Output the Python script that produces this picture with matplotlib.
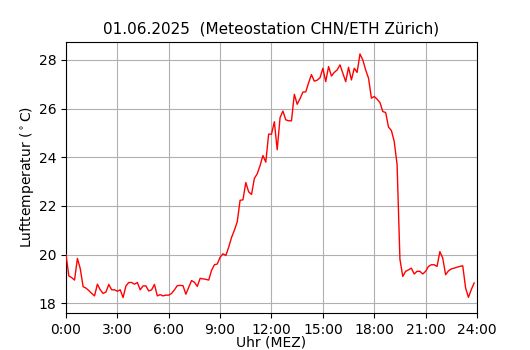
import numpy as np
import matplotlib
matplotlib.use("Agg")
import matplotlib.pyplot as plt

# 10-minute temperature readings, 00:00 .. 23:50
temps = [
    20.0, 19.12, 19.05, 18.95, 19.84, 19.42, 18.68, 18.62, 18.52, 18.4,
    18.3, 18.78, 18.55, 18.4, 18.46, 18.77, 18.55, 18.55, 18.49, 18.55,
    18.23, 18.71, 18.85, 18.85, 18.78, 18.85, 18.55, 18.71, 18.71, 18.5,
    18.55, 18.77, 18.3, 18.35, 18.3, 18.33, 18.33, 18.4, 18.55, 18.72,
    18.73, 18.72, 18.37, 18.65, 18.93, 18.86, 18.69, 19.02, 19.0, 18.98,
    18.95, 19.35, 19.58, 19.61, 19.89, 20.03, 19.96, 20.3, 20.7, 21.0,
    21.35, 22.23, 22.25, 22.96, 22.58, 22.47, 23.13, 23.32, 23.66, 24.07,
    23.8, 24.95, 24.95, 25.46, 24.31, 25.63, 25.9, 25.54, 25.5, 25.5,
    26.59, 26.18, 26.41, 26.68, 26.69, 27.06, 27.4, 27.13, 27.17, 27.27,
    27.66, 27.11, 27.73, 27.34, 27.49, 27.59, 27.8, 27.45, 27.11, 27.7,
    27.18, 27.66, 27.49, 28.25, 28.0, 27.59, 27.25, 26.43, 26.5, 26.39,
    26.25, 25.88, 25.84, 25.24, 25.1, 24.65, 23.7, 19.8, 19.1, 19.31,
    19.37, 19.44, 19.2, 19.31, 19.31, 19.2, 19.31, 19.51, 19.58, 19.58,
    19.51, 20.12, 19.85, 19.17, 19.33, 19.41, 19.44, 19.48, 19.51, 19.54,
    18.63, 18.24, 18.56, 18.83,
]
step_minutes = 10
hours = np.arange(len(temps)) * step_minutes / 60.0

xtick_hours = [0, 3, 6, 9, 12, 15, 18, 21, 24]
xtick_labels = ["0:00", "3:00", "6:00", "9:00", "12:00", "15:00", "18:00", "21:00", "24:00"]
ytick_values = [18, 20, 22, 24, 26, 28]

title = "01.06.2025  (Meteostation CHN/ETH Zürich)"
xlabel = "Uhr (MEZ)"
ylabel = r"Lufttemperatur ($^\circ$C)"

fig = plt.figure(figsize=(5.3, 3.5), dpi=100)
ax = fig.add_axes([0.1245, 0.106, 0.7755, 0.774])
ax.plot(hours, temps, color="red", linewidth=1.0, zorder=3)
ax.set_xlim(0, 24)
ax.set_ylim(17.6, 28.74)
ax.set_xticks(xtick_hours)
ax.set_xticklabels(xtick_labels)
ax.set_yticks(ytick_values)
ax.grid(True, color="#b0b0b0", linewidth=0.8)
ax.set_axisbelow(True)
ax.set_title(title, fontsize=11)
ax.set_xlabel(xlabel, labelpad=-1)
ax.set_ylabel(ylabel, labelpad=2)
fig.savefig("out.png", dpi=100)
